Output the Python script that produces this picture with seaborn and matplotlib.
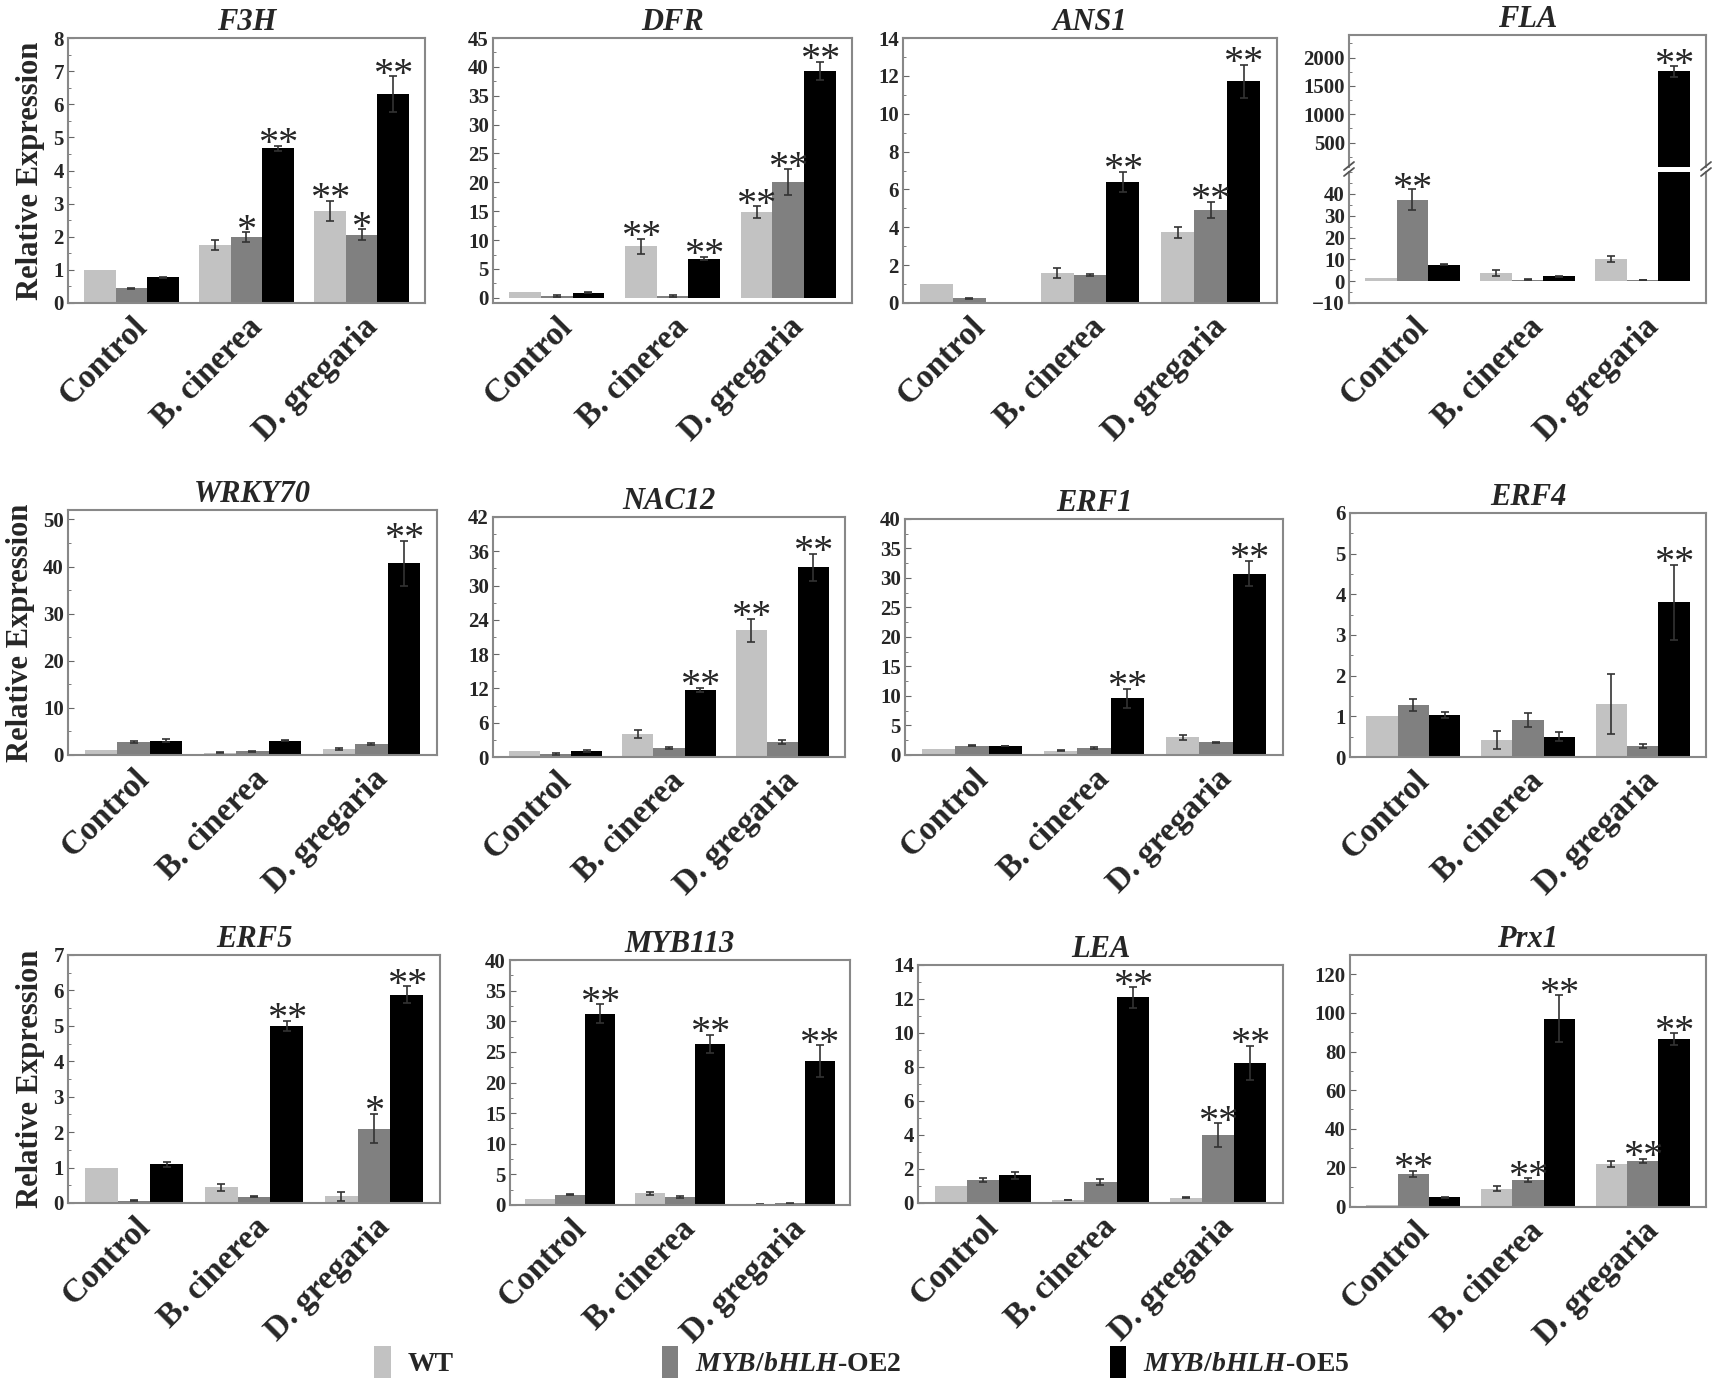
import seaborn as sns
import matplotlib.pyplot as plt
import numpy as np
import pandas as pd
from matplotlib.patches import Patch
from matplotlib.ticker import MultipleLocator

# categories
treatments = ["Control", "B. cinerea", "D. gregaria"]
genotypes = ["WT", "OE2", "OE5"]
colors = ["#c2c2c2", "#808080", "#000000"]

# values, order: Control(WT,OE2,OE5), B. cinerea(...), D. gregaria(...)
f3h_val = [1.0, 0.44, 0.77, 1.74, 1.99, 4.67, 2.78, 2.06, 6.31]
f3h_err = [0, 0.02, 0.02, 0.15, 0.14, 0.08, 0.31, 0.17, 0.53]
f3h_sig = ["", "", "", "", "*", "**", "**", "*", "**"]

dfr_val = [1.05, 0.3, 0.9, 8.9, 0.3, 6.8, 14.8, 20.05, 39.25]
dfr_err = [0, 0.1, 0.1, 1.3, 0.1, 0.3, 1.05, 2.2, 1.6]
dfr_sig = ["", "", "", "**", "", "**", "**", "**", "**"]

ans1_val = [1.0, 0.25, 0.07, 1.59, 1.46, 6.41, 3.73, 4.91, 11.71]
ans1_err = [0, 0.02, 0, 0.26, 0.05, 0.53, 0.29, 0.44, 0.88]
ans1_sig = ["", "", "", "", "", "**", "", "**", "**"]

fla_val = [1.4, 37.4, 7.6, 3.8, 0.6, 2.3, 10.2, 0.6, 1760]
fla_err = [0, 4.6, 0.2, 1.4, 0.2, 0.2, 1.3, 0.15, 100]
fla_sig = ["", "**", "", "", "", "", "", "", "**"]

wrky70_val = [1.1, 2.7, 3.05, 0.5, 0.8, 3.05, 1.3, 2.4, 40.7]
wrky70_err = [0, 0.2, 0.3, 0.1, 0.1, 0.1, 0.2, 0.2, 4.8]
wrky70_sig = ["", "", "", "", "", "", "", "", "**"]

nac12_val = [1.05, 0.5, 1.05, 4.05, 1.6, 11.7, 22.2, 2.6, 33.2]
nac12_err = [0, 0.2, 0.1, 0.65, 0.2, 0.4, 2.0, 0.4, 2.4]
nac12_sig = ["", "", "", "", "", "**", "**", "", "**"]

erf1_val = [1.0, 1.6, 1.5, 0.75, 1.15, 9.6, 3.0, 2.15, 30.75]
erf1_err = [0, 0.1, 0.05, 0.15, 0.2, 1.65, 0.4, 0.1, 2.15]
erf1_sig = ["", "", "", "", "", "**", "", "", "**"]

erf4_val = [1.0, 1.27, 1.03, 0.42, 0.91, 0.5, 1.3, 0.26, 3.8]
erf4_err = [0, 0.15, 0.07, 0.23, 0.18, 0.11, 0.74, 0.05, 0.93]
erf4_sig = ["", "", "", "", "", "", "", "", "**"]

erf5_val = [1.0, 0.07, 1.1, 0.45, 0.18, 5.0, 0.19, 2.1, 5.88]
erf5_err = [0, 0.01, 0.07, 0.1, 0.02, 0.15, 0.12, 0.42, 0.24]
erf5_sig = ["", "", "", "", "", "**", "", "*", "**"]

myb113_val = [0.9, 1.7, 31.2, 1.95, 1.3, 26.3, 0.1, 0.25, 23.5]
myb113_err = [0, 0.1, 1.55, 0.25, 0.1, 1.5, 0.03, 0.05, 2.6]
myb113_sig = ["", "", "**", "", "", "**", "", "", "**"]

lea_val = [1.0, 1.37, 1.63, 0.17, 1.25, 12.1, 0.3, 3.98, 8.25]
lea_err = [0, 0.12, 0.2, 0.02, 0.18, 0.6, 0.03, 0.7, 1.0]
lea_sig = ["", "", "", "", "", "**", "", "**", "**"]

prx1_val = [0.5, 16.7, 4.5, 8.9, 13.3, 96.9, 21.6, 23.4, 86.4]
prx1_err = [0, 1.7, 0.3, 1.3, 1.1, 12.2, 1.5, 1.2, 3.0]
prx1_sig = ["", "**", "", "", "**", "**", "", "**", "**"]

W, H = 1713, 1397
sns.set_style("ticks")
plt.rcParams["font.family"] = ["Liberation Serif", "DejaVu Serif"]
plt.rcParams["font.weight"] = "bold"
plt.rcParams["mathtext.fontset"] = "custom"
plt.rcParams["mathtext.it"] = "Liberation Serif:italic:bold"
plt.rcParams["mathtext.rm"] = "Liberation Serif:bold"

fig = plt.figure(figsize=(W / 100, H / 100), dpi=100)


def px_axes(l, t, r, b):
    return fig.add_axes([l / W, 1 - b / H, (r - l) / W, (b - t) / H])


def draw_panel(ax, val, err, sig, ylim, major, minor, xlabels=True):
    df = pd.DataFrame({
        "treatment": np.repeat(treatments, 3),
        "genotype": genotypes * 3,
        "value": val,
    })
    sns.barplot(data=df, x="treatment", y="value", hue="genotype",
                hue_order=genotypes, palette=colors, errorbar=None,
                legend=False, linewidth=0, ax=ax, width=0.82)
    ax.set_ylim(*ylim)
    lo, hi = ylim
    span = hi - lo
    for j in range(3):
        for i, bar in enumerate(ax.containers[j]):
            k = i * 3 + j
            x = bar.get_x() + bar.get_width() / 2
            top = val[k] + err[k]
            if not (lo < val[k] < hi):
                continue
            if err[k] > 0:
                ax.errorbar(x, val[k], yerr=err[k], fmt="none", ecolor="#333333",
                            elinewidth=1.2, capsize=3, capthick=1.2)
            if sig[k]:
                ax.annotate(sig[k], (x, top + 0.005 * span), xytext=(0, -7),
                            textcoords="offset points", ha="center",
                            va="baseline", fontsize=29, fontweight="normal")
    ax.yaxis.set_major_locator(MultipleLocator(major))
    ax.yaxis.set_minor_locator(MultipleLocator(minor))
    ax.tick_params(axis="y", which="major", direction="in", length=4,
                   labelsize=15, pad=3, color="#666666")
    ax.tick_params(axis="y", which="minor", direction="in", length=2, color="#666666")
    ax.tick_params(axis="x", length=0, pad=6)
    for s in ax.spines.values():
        s.set_color("#888888")
        s.set_linewidth(1.5)
    ax.set_xlabel("")
    ax.set_ylabel("")
    if xlabels:
        ax.set_xticks(range(3))
        ax.set_xticklabels(treatments, rotation=45, ha="right",
                           rotation_mode="anchor", fontsize=24, fontweight="bold")
    else:
        ax.set_xticklabels([])
    for lab in ax.get_yticklabels():
        lab.set_fontweight("bold")


def title(ax, name):
    ax.set_title(name, fontsize=22, fontweight="bold", fontstyle="italic", pad=6)


# row 1
ax = px_axes(68, 38, 425, 303)
draw_panel(ax, f3h_val, f3h_err, f3h_sig, (0, 8), 1, 0.5)
title(ax, "F3H")
ax.set_ylabel("Relative Expression", fontsize=22, fontweight="bold", labelpad=6)

ax = px_axes(493, 38, 852, 303)
draw_panel(ax, dfr_val, dfr_err, dfr_sig, (-0.9, 45), 5, 2.5)
title(ax, "DFR")

ax = px_axes(903, 38, 1277, 303)
draw_panel(ax, ans1_val, ans1_err, ans1_sig, (0, 14), 2, 1)
title(ax, "ANS1")

# FLA with broken axis
ax_up = px_axes(1349, 35, 1706, 167)
draw_panel(ax_up, fla_val, fla_err, fla_sig, (70, 2400), 500, 250, xlabels=False)
ax_up.set_yticks([500, 1000, 1500, 2000])
ax_up.spines["bottom"].set_visible(False)
title(ax_up, "FLA")
ax_lo = px_axes(1349, 172, 1706, 303)
draw_panel(ax_lo, fla_val, fla_err, fla_sig, (-10, 50), 10, 5)
ax_lo.set_yticks([-10, 0, 10, 20, 30, 40])
ax_lo.spines["top"].set_visible(False)
for lab in ax_lo.get_yticklabels() + ax_up.get_yticklabels():
    lab.set_fontweight("bold")
# break marks "//" on both spines
for xpx in (1349, 1706):
    for ypx in (166, 172):
        fig.add_artist(plt.Line2D(
            [(xpx - 5) / W, (xpx + 5) / W],
            [1 - (ypx + 4) / H, 1 - (ypx - 4) / H],
            color="#555555", lw=1.3))

# row 2
ax = px_axes(68, 510, 437, 755)
draw_panel(ax, wrky70_val, wrky70_err, wrky70_sig, (0, 52), 10, 5)
title(ax, "WRKY70")
ax.set_ylabel("Relative Expression", fontsize=22, fontweight="bold", labelpad=6)

ax = px_axes(493, 517, 845, 757)
draw_panel(ax, nac12_val, nac12_err, nac12_sig, (0, 42), 6, 3)
title(ax, "NAC12")

ax = px_axes(905, 519, 1283, 755)
draw_panel(ax, erf1_val, erf1_err, erf1_sig, (0, 40), 5, 2.5)
title(ax, "ERF1")

ax = px_axes(1350, 513, 1706, 757)
draw_panel(ax, erf4_val, erf4_err, erf4_sig, (0, 6), 1, 0.5)
title(ax, "ERF4")

# row 3
ax = px_axes(68, 955, 440, 1203)
draw_panel(ax, erf5_val, erf5_err, erf5_sig, (0, 7), 1, 0.5)
title(ax, "ERF5")
ax.set_ylabel("Relative Expression", fontsize=22, fontweight="bold", labelpad=6)

ax = px_axes(510, 960, 850, 1205)
draw_panel(ax, myb113_val, myb113_err, myb113_sig, (0, 40), 5, 2.5)
title(ax, "MYB113")

ax = px_axes(918, 965, 1283, 1203)
draw_panel(ax, lea_val, lea_err, lea_sig, (0, 14), 2, 1)
title(ax, "LEA")

ax = px_axes(1350, 955, 1706, 1207)
draw_panel(ax, prx1_val, prx1_err, prx1_sig, (-0.5, 130), 20, 10)
title(ax, "Prx1")

# legend
handles = [Patch(facecolor=c, edgecolor="none") for c in colors]
labels = ["WT", r"$\mathit{MYB/bHLH}$-OE2", r"$\mathit{MYB/bHLH}$-OE5"]
fig.legend(handles, labels, loc="center", bbox_to_anchor=(0.503, 1 - 1362 / H),
           ncol=3, frameon=False, handlelength=0.6, handleheight=1.4,
           columnspacing=7.5, handletextpad=0.6,
           prop={"family": "Liberation Serif", "weight": "bold", "size": 20})

fig.savefig("out.png", dpi=100)
